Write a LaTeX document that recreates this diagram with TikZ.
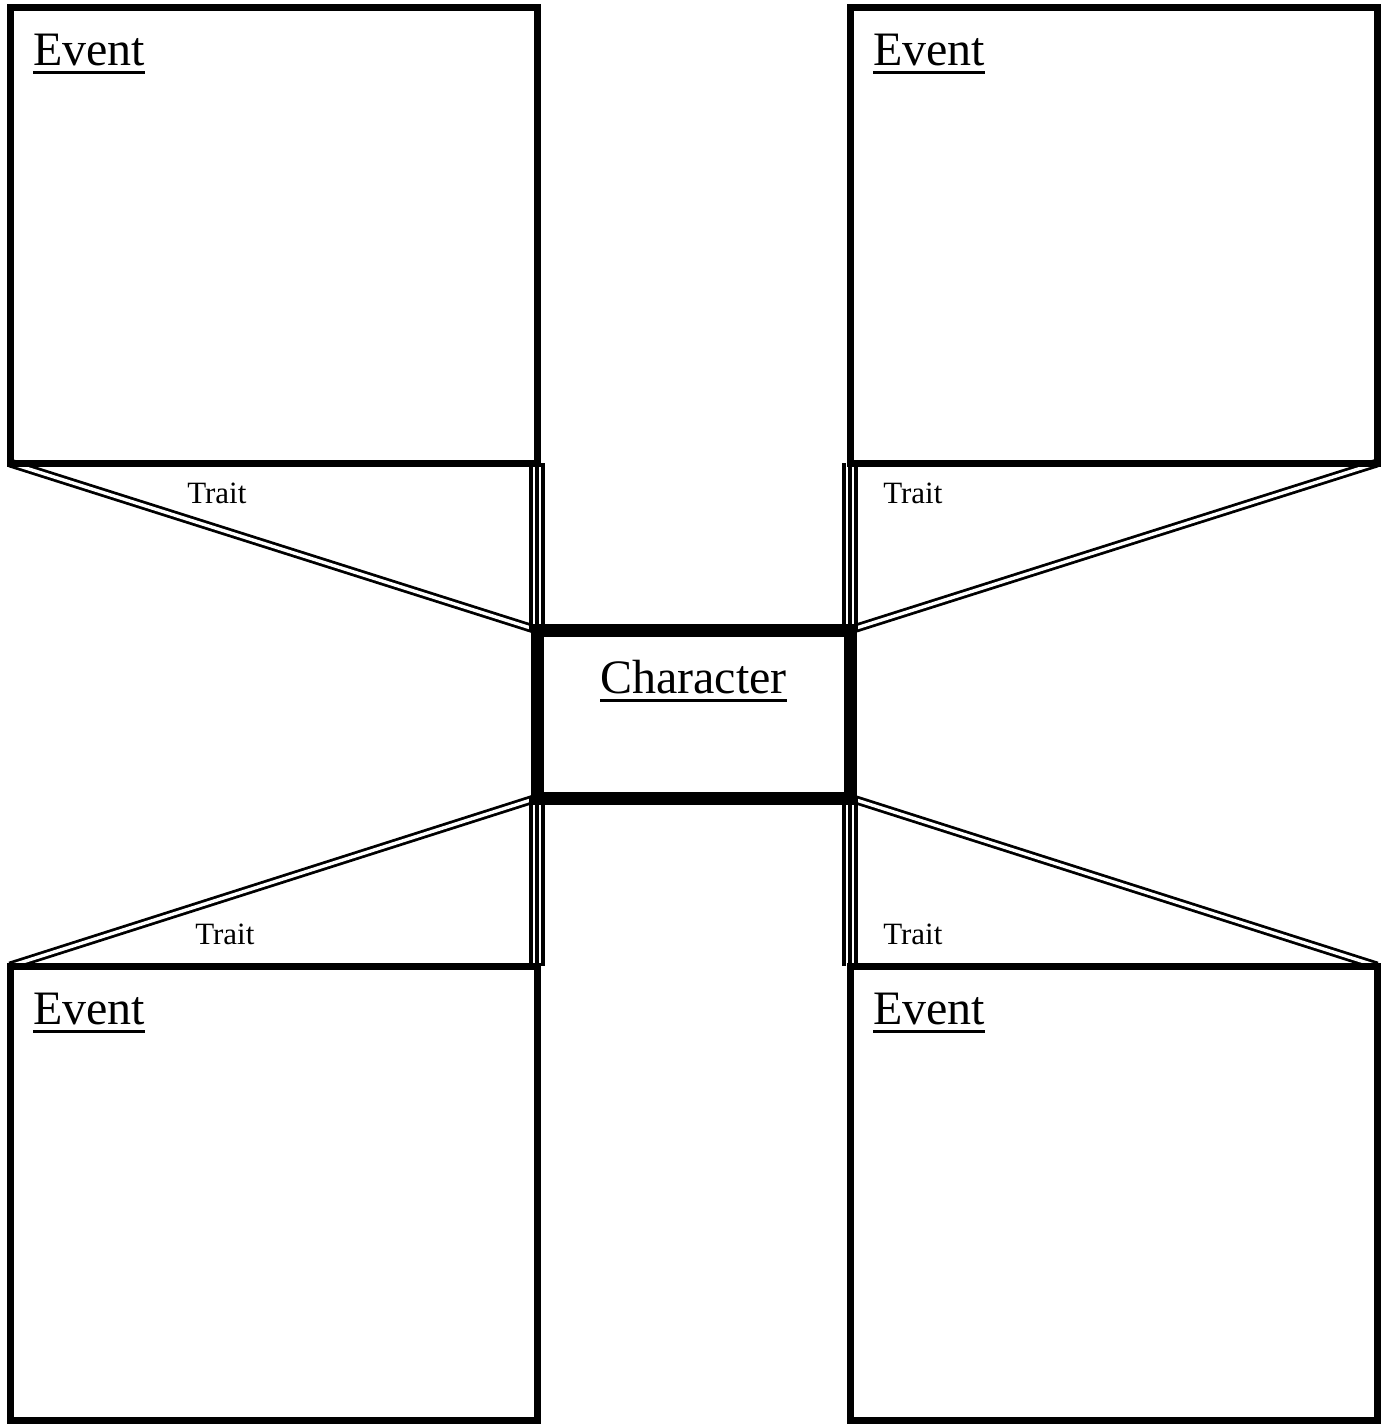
\documentclass[tikz,border=0pt]{standalone}
\usepackage{fontspec}
\setmainfont{Liberation Serif}
\newcommand\myul[1]{\setbox0=\hbox{#1}\rlap{\rule[-6.75pt]{\wd0}{2.4pt}}\box0}
\begin{document}
\begin{tikzpicture}[x=0.75pt,y=-0.75pt,
  evbox/.style={draw=black, line width=5.25pt, rectangle, outer sep=0pt, inner sep=0pt},
  chbox/.style={draw=black, line width=9.75pt, rectangle, outer sep=0pt, inner sep=0pt},
  dbl/.style={draw=black, double=white, line width=2.1pt, double distance=2.5pt},
  triple/.style={draw=black, line width=11.5pt, postaction={draw=white, line width=6.6pt}, postaction={draw=black, line width=3.2pt}},
  big/.style={anchor=base west, inner sep=0pt, font=\fontsize{36pt}{40pt}\selectfont},
  small/.style={anchor=base west, inner sep=0pt, font=\fontsize{23.25pt}{26pt}\selectfont}]
\useasboundingbox (0,0) rectangle (1383,1424);
\node[evbox, minimum width=395.25pt, minimum height=342pt] (tl) at (273.5,235) {};
\node[evbox, minimum width=395.25pt, minimum height=342pt] (tr) at (1113.5,235) {};
\node[evbox, minimum width=395.25pt, minimum height=340.5pt] (bl) at (273.5,1193) {};
\node[evbox, minimum width=395.25pt, minimum height=340.5pt] (br) at (1113.5,1193) {};
\node[chbox, minimum width=234.75pt, minimum height=126pt] (ch) at (693.5,714) {};
% connectors
\draw[dbl] (tl.south west) -- (ch.north west);
\draw[dbl] (tr.south east) -- (ch.north east);
\draw[dbl] (bl.north west) -- (ch.south west);
\draw[dbl] (br.north east) -- (ch.south east);
\draw[triple] (tl.south east) -- (ch.north west);
\draw[triple] (tr.south west) -- (ch.north east);
\draw[triple] (bl.north east) -- (ch.south west);
\draw[triple] (br.north west) -- (ch.south east);
% box borders on top
\draw[line width=5.25pt] (tl.south west) rectangle (tl.north east);
\draw[line width=5.25pt] (tr.south west) rectangle (tr.north east);
\draw[line width=5.25pt] (bl.south west) rectangle (bl.north east);
\draw[line width=5.25pt] (br.south west) rectangle (br.north east);
\draw[line width=9.75pt] (ch.south west) rectangle (ch.north east);
% texts
\node[big] (e1) at (33,65) {\myul{Event}};
\node[big] (e2) at (873,65) {\myul{Event}};
\node[big] (e3) at (33,1024) {\myul{Event}};
\node[big] (e4) at (873,1024) {\myul{Event}};
\node[big] (c) at (600,693) {\myul{Character}};
\node[small] (t1) at (187,503) {Trait};
\node[small] (t2) at (883,503) {Trait};
\node[small] (t3) at (195,944) {Trait};
\node[small] (t4) at (883,944) {Trait};
\end{tikzpicture}
\end{document}
